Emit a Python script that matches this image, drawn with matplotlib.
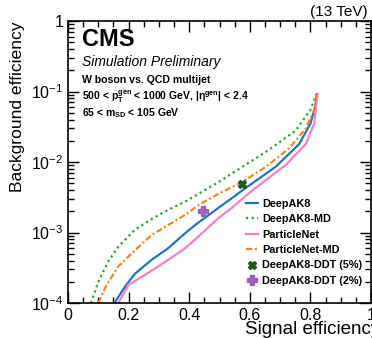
import numpy as np
import matplotlib
matplotlib.use("Agg")
import matplotlib.pyplot as plt
from matplotlib.ticker import FixedLocator, MultipleLocator, LogLocator, NullFormatter

plt.rcParams['font.family'] = ['Liberation Sans', 'DejaVu Sans']
plt.rcParams['mathtext.fontset'] = 'custom'
plt.rcParams['mathtext.rm'] = 'Liberation Sans'
plt.rcParams['mathtext.it'] = 'Liberation Sans:italic'
plt.rcParams['mathtext.bf'] = 'Liberation Sans:bold'

# ROC curves (signal eff, background eff)
deepak8_x = [0.153, 0.188, 0.221, 0.276, 0.331, 0.387, 0.42, 0.467, 0.5, 0.533, 0.577, 0.686, 0.763, 0.80, 0.816, 0.822]
deepak8_y = [1e-4, 1.7e-4, 2.6e-4, 4.1e-4, 6.0e-4, 9.8e-4, 1.28e-3, 1.8e-3, 2.3e-3, 2.9e-3, 4.0e-3, 8.6e-3, 1.8e-2, 3.5e-2, 6.1e-2, 0.092]

deepak8md_x = [0.076, 0.100, 0.133, 0.166, 0.221, 0.276, 0.331, 0.387, 0.434, 0.5, 0.544, 0.654, 0.752, 0.80, 0.82]
deepak8md_y = [1e-4, 2.0e-4, 3.9e-4, 6.3e-4, 1.1e-3, 1.55e-3, 2.1e-3, 2.75e-3, 3.6e-3, 5.3e-3, 7.0e-3, 1.4e-2, 2.8e-2, 5.5e-2, 0.092]

pnet_x = [0.166, 0.199, 0.254, 0.331, 0.387, 0.42, 0.5, 0.533, 0.61, 0.719, 0.785, 0.8125, 0.82, 0.824]
pnet_y = [1e-4, 1.8e-4, 2.5e-4, 4.1e-4, 6.0e-4, 8.0e-4, 1.65e-3, 2.1e-3, 4.0e-3, 9.1e-3, 1.8e-2, 3.5e-2, 6.8e-2, 0.092]

pnetmd_x = [0.100, 0.127, 0.166, 0.221, 0.276, 0.331, 0.387, 0.434, 0.5, 0.575, 0.654, 0.730, 0.785, 0.8125, 0.82]
pnetmd_y = [1e-4, 1.8e-4, 3.3e-4, 5.6e-4, 9.2e-4, 1.28e-3, 1.78e-3, 2.5e-3, 3.6e-3, 5.2e-3, 8.6e-3, 1.56e-2, 3.0e-2, 5.5e-2, 0.088]

# working points
ddt5_x, ddt5_y = [0.575], [4.8e-3]
ddt2_x, ddt2_y = [0.447], [2.0e-3]

xticks = [0, 0.2, 0.4, 0.6, 0.8, 1]
xticklabels = ["0", "0.2", "0.4", "0.6", "0.8", "1"]
yticks = [1e-4, 1e-3, 1e-2, 1e-1, 1]
yticklabels = [r"$10^{-4}$", r"$10^{-3}$", r"$10^{-2}$", r"$10^{-1}$", "1"]

fig = plt.figure(figsize=(3.72, 3.38), dpi=100)
ax = fig.add_axes([68/372, 35/338, 303/372, 282/338])

ax.plot(deepak8_x, deepak8_y, color="#1f77b4", lw=1.6, label="DeepAK8")
ax.plot(deepak8md_x, deepak8md_y, color="#2ca02c", lw=1.6, ls=(0, (1, 1.5)), label="DeepAK8-MD")
ax.plot(pnet_x, pnet_y, color="#f77fc8", lw=1.6, label="ParticleNet")
ax.plot(pnetmd_x, pnetmd_y, color="#ff7f0e", lw=1.5, ls=(0, (3, 1.2, 1, 1.2)), label="ParticleNet-MD")
ax.plot(ddt5_x, ddt5_y, ls="none", marker="X", ms=6, color="#1e5a23", label="DeepAK8-DDT (5%)")
ax.plot(ddt2_x, ddt2_y, ls="none", marker="P", ms=7, color="#9d62b8", label="DeepAK8-DDT (2%)")

ax.set_yscale("log")
ax.set_xlim(0, 1)
ax.set_ylim(1e-4, 1)
ax.xaxis.set_major_locator(FixedLocator(xticks))
ax.set_xticklabels(xticklabels)
ax.xaxis.set_minor_locator(MultipleLocator(0.05))
ax.yaxis.set_major_locator(FixedLocator(yticks))
ax.set_yticklabels(yticklabels)
ax.yaxis.set_minor_locator(LogLocator(base=10, subs=np.arange(2, 10)))
ax.yaxis.set_minor_formatter(NullFormatter())
ax.tick_params(which="both", direction="in", top=True, right=True, labelsize=11.5, width=1)
ax.tick_params(which="major", length=8)
ax.tick_params(which="minor", length=4)
for s in ax.spines.values():
    s.set_linewidth(1.2)

ax.text(0.046, 0.933, "CMS", transform=ax.transAxes, fontsize=17, fontweight="bold", va="center")
ax.text(0.046, 0.855, "Simulation Preliminary", transform=ax.transAxes, fontsize=10, style="italic", va="center")
ax.text(0.046, 0.79, "W boson vs. QCD multijet", transform=ax.transAxes, fontsize=7.6, fontweight="bold", va="center")
ax.text(0.046, 0.733, r"500 < $\mathbf{p}_\mathbf{T}^\mathbf{gen}$ < 1000 GeV, |$\mathbf{\eta}^\mathbf{gen}$| < 2.4",
        transform=ax.transAxes, fontsize=7.5, fontweight="bold", va="center")
ax.text(0.046, 0.674, r"65 < $\mathbf{m}_\mathbf{SD}$ < 105 GeV", transform=ax.transAxes, fontsize=7.5,
        fontweight="bold", va="center")

leg = ax.legend(loc="upper left", bbox_to_anchor=(0.572, 0.385), frameon=False, fontsize=7.8,
                handlelength=1.1, handletextpad=0.4, labelspacing=0.5, borderaxespad=0)
for t in leg.get_texts():
    t.set_fontweight("bold")

fig.text(310/372, 1 - 12/338, "(13 TeV)", fontsize=11, va="center", ha="left")
fig.text(245/372, 1 - 330/338, "Signal efficiency", fontsize=13.5, va="center", ha="left")
fig.text(18/372, 1 - 22/338, "Background efficiency", fontsize=12.6, rotation=90, va="top", ha="center")

plt.savefig("out.png", dpi=100)
